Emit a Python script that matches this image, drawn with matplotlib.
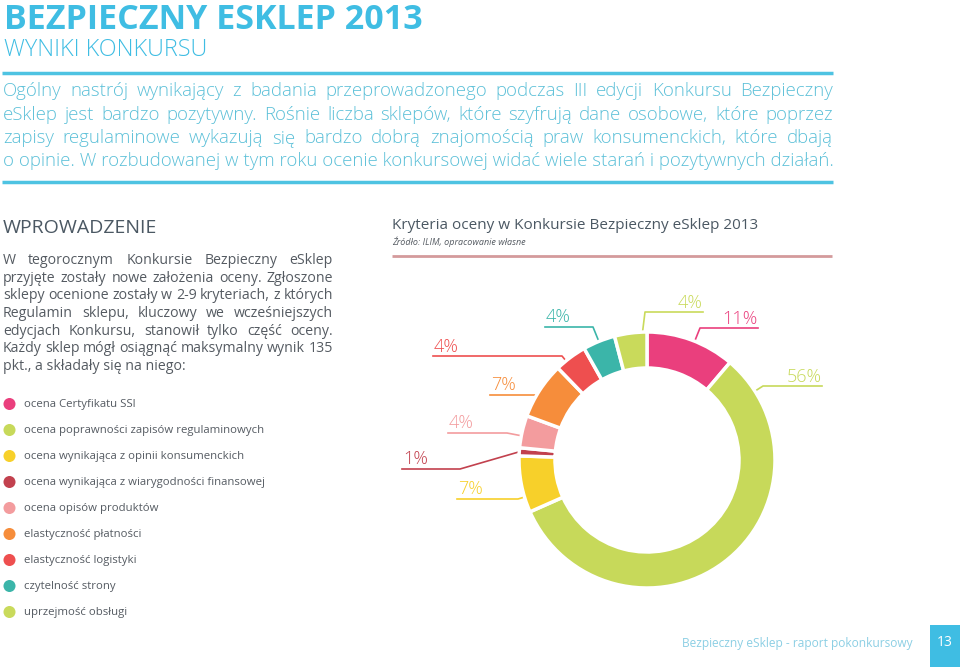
import matplotlib
matplotlib.use("Agg")
import matplotlib.pyplot as plt
import numpy as np

plt.rcParams['font.family'] = ['Open Sans', 'DejaVu Sans']

# ---------------- data ----------------
categories = [
    "ocena Certyfikatu SSl",
    "ocena poprawności zapisów regulaminowych",
    "ocena wynikająca z opinii konsumenckich",
    "ocena wynikająca z wiarygodności finansowej",
    "ocena opisów produktów",
    "elastyczność płatności",
    "elastyczność logistyki",
    "czytelność strony",
    "uprzejmość obsługi",
]
values = [11, 56, 7, 1, 4, 7, 4, 4, 4]
colors = ["#ea3f7d", "#c7d95a", "#f7d02a", "#c2414e", "#f39c9e",
          "#f68d3b", "#ee4f4f", "#3bb5a9", "#c9da5b"]

title = "BEZPIECZNY ESKLEP 2013"
subtitle = "WYNIKI KONKURSU"
para_lines = [
    "Ogólny nastrój wynikający z badania przeprowadzonego podczas III edycji Konkursu Bezpieczny",
    "eSklep jest bardzo pozytywny. Rośnie liczba sklepów, które szyfrują dane osobowe, które poprzez",
    "zapisy regulaminowe wykazują się bardzo dobrą znajomością praw konsumenckich, które dbają",
    "o opinie. W rozbudowanej w tym roku ocenie konkursowej widać wiele starań i pozytywnych działań.",
]
intro_title = "WPROWADZENIE"
intro_lines = [
    "W tegorocznym Konkursie Bezpieczny eSklep",
    "przyjęte zostały nowe założenia oceny. Zgłoszone",
    "sklepy ocenione zostały w 2-9 kryteriach, z których",
    "Regulamin sklepu, kluczowy we wcześniejszych",
    "edycjach Konkursu, stanowił tylko część oceny.",
    "Każdy sklep mógł osiągnąć maksymalny wynik 135",
    "pkt., a składały się na niego:",
]
chart_title = "Kryteria oceny w Konkursie Bezpieczny eSklep 2013"
chart_source = "Źródło: ILIM, opracowanie własne"
footer_text = "Bezpieczny eSklep - raport pokonkursowy"
page_number = "13"

# ---------------- layout ----------------
W, H = 960, 667
fig = plt.figure(figsize=(W / 100, H / 100), dpi=100)
fig.patch.set_facecolor("white")
ov = fig.add_axes([0, 0, 1, 1])
ov.set_xlim(0, W)
ov.set_ylim(H, 0)
ov.axis("off")
renderer = fig.canvas.get_renderer()


def width_of(t):
    return t.get_window_extent(renderer).width


def justify(line, x0, x1, y, justify_line=True, **kw):
    words = line.split()
    if not justify_line:
        ov.text(x0, y, line, va="baseline", ha="left", **kw)
        return
    texts = [ov.text(0, y, w, va="baseline", ha="left", **kw) for w in words]
    widths = [width_of(t) for t in texts]
    gap = (x1 - x0 - sum(widths)) / max(len(words) - 1, 1)
    x = x0
    for t, w in zip(texts, widths):
        t.set_x(x)
        x += w + gap


def fit_size(line, target, base=12, **kw):
    t = ov.text(0, 0, line, fontsize=base, **kw)
    w = width_of(t)
    t.remove()
    return base * target / w


BLUE = "#3fbde3"
LBLUE = "#5cc0d8"
DARK = "#4b5863"
GREY = "#555b62"

# header
ov.text(4, 29, title, fontsize=24.5, fontweight="bold", color=BLUE, va="baseline")
ov.text(4, 56, subtitle, fontsize=16.8, fontweight="light", color=BLUE, va="baseline")
ov.plot([2, 833], [72.5, 72.5], color="#4ec3e2", lw=2.5, solid_capstyle="butt")
ov.plot([2, 833], [181.5, 181.5], color="#4ec3e2", lw=2.5, solid_capstyle="butt")

ps = fit_size(para_lines[3], 830, fontweight="light")
for i, ln in enumerate(para_lines):
    justify(ln, 3, 833, 96.5 + i * 23.3, justify_line=(i < 3),
            fontsize=ps, fontweight="light", color=LBLUE)

# intro
ov.text(3, 233, intro_title, fontsize=14, color=DARK, va="baseline")
isz = fit_size(intro_lines[5], 330)
for i, ln in enumerate(intro_lines):
    justify(ln, 3, 333, 264 + i * 17.65, justify_line=(i < len(intro_lines) - 1),
            fontsize=isz, color=GREY)

# legend
for i, (c, lab) in enumerate(zip(colors, categories)):
    y = 404 + i * 26
    ov.scatter([9.5], [y], s=75, color=c, edgecolors="none")
    ov.text(24, y, lab, fontsize=8.2, color=GREY, va="center")

# chart title
ov.text(392, 229, chart_title, fontsize=11, color=DARK, va="baseline")
ov.text(392, 245, chart_source, fontsize=6.5, style="italic", color=GREY, va="baseline")
ov.plot([392, 832], [256, 256], color="#d49a9c", lw=2, solid_capstyle="butt")

# footer
ov.text(913, 644, footer_text, fontsize=8.6, color="#8ccfe4", ha="right", va="center")
ov.add_patch(plt.Rectangle((930, 625), 30, 42, color="#3fbde3", lw=0))
ov.text(945, 643, page_number, fontsize=10, color="white", ha="center", va="center")

# donut
CX, CY, R, RW = 647, 460, 128, 36
pa = fig.add_axes([(CX - 130) / W, (H - CY - 130) / H, 260 / W, 260 / H])
wedges, _ = pa.pie(values, colors=colors, radius=R, startangle=90, counterclock=False,
                   wedgeprops=dict(width=RW, edgecolor="white", linewidth=2.5))
pa.set_xlim(-130, 130)
pa.set_ylim(-130, 130)
pa.set_aspect("auto")
pa.axis("off")

# label layout: (elbow x, elbow y, end x) in figure pixels
label_layout = [
    (700, 328, 758),
    (763, 386, 822),
    (518, 499, 457),
    (460, 469, 402),
    (507, 433, 448),
    (535, 395, 490),
    (562, 356, 433),
    (593, 327, 545),
    (645, 312, 703),
]

total = float(sum(values))
start = 0.0
for v, c, (ex, ey, endx) in zip(values, colors, label_layout):
    span = v / total * 360.0
    a0, a1 = start, start + span
    start = a1
    # direction towards elbow (clockwise from top), clipped into the wedge
    ang = np.degrees(np.arctan2(ex - CX, CY - ey)) % 360
    margin = min(2.0, span / 2)
    ang = min(max(ang, a0 + margin), a1 - margin)
    ax_ = CX + R * np.sin(np.radians(ang))
    ay_ = CY - R * np.cos(np.radians(ang))
    ov.plot([ax_, ex, endx], [ay_, ey, ey], color=c, lw=1.2)
    pct = f"{v}%"
    if endx > ex:
        ov.text(endx, ey - 4.5, pct, fontsize=13, fontweight="light", color=c,
                ha="right", va="baseline")
    else:
        ov.text(endx + 1, ey - 4.5, pct, fontsize=13, fontweight="light", color=c,
                ha="left", va="baseline")

fig.savefig("out.png", dpi=100)
